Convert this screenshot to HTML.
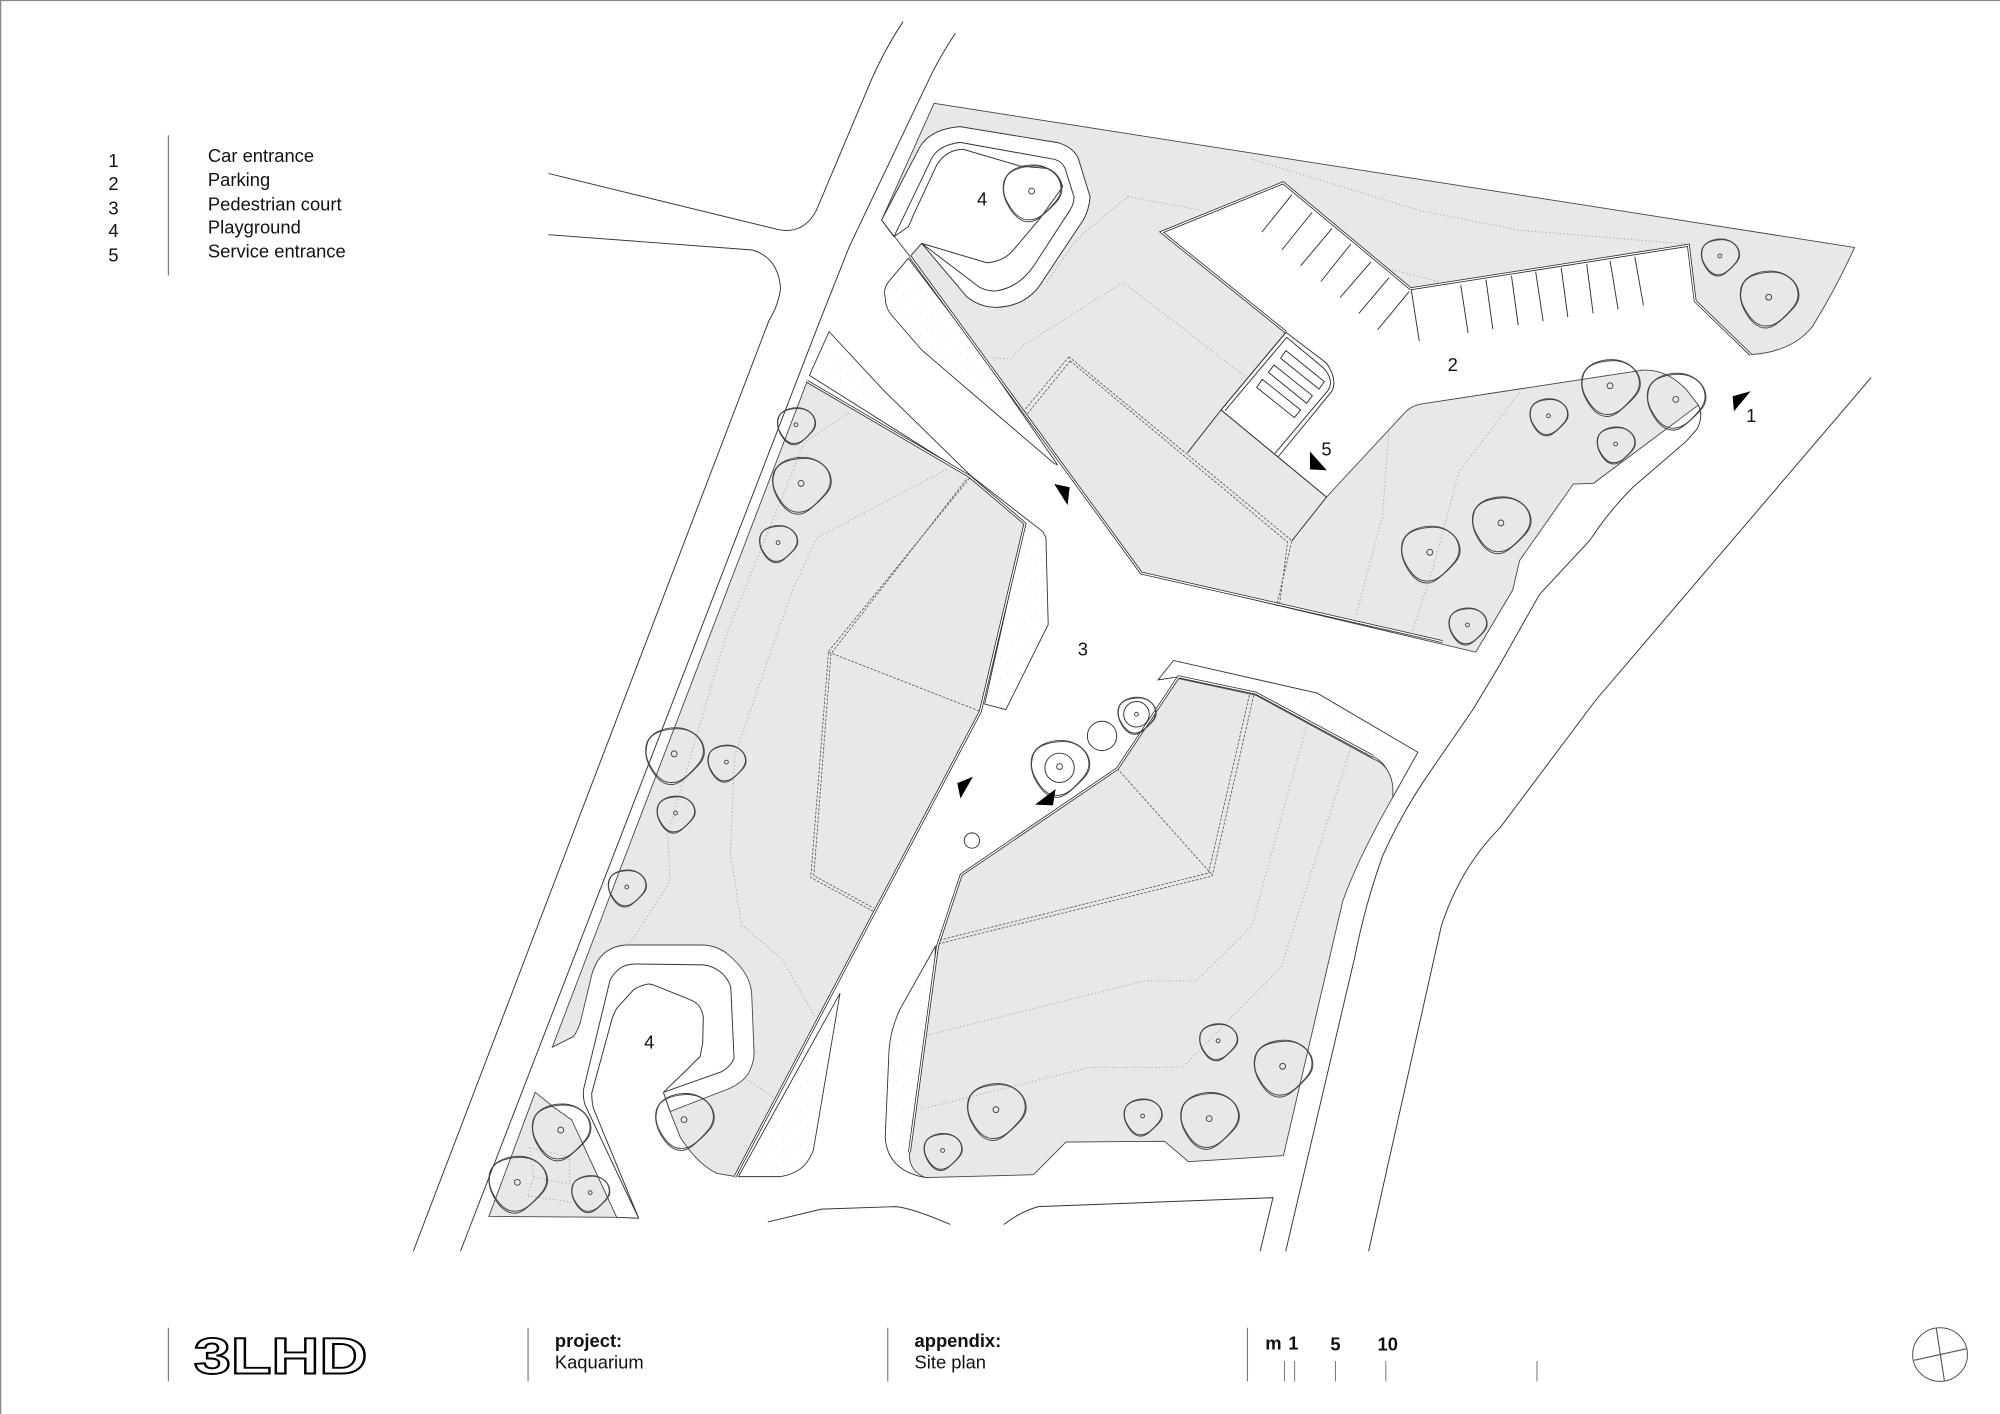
<!DOCTYPE html>
<html>
<head>
<meta charset="utf-8">
<title>Kaquarium Site plan</title>
<style>
html,body{margin:0;padding:0;background:#fff;}
svg{display:block;}
text{font-family:"Liberation Sans",sans-serif;fill:#111;font-size:14.4px;}
.b{font-weight:bold;}
.l{fill:none;stroke:#333;stroke-width:.75;}
.g{fill:#e8e8e8;stroke:#444;stroke-width:.7;}
.w{fill:#fff;stroke:#333;stroke-width:.75;}
.s{fill:url(#dots);stroke:#333;stroke-width:.7;}
.wo{fill:none;stroke:#222;stroke-width:2.2;stroke-linejoin:miter;}
.wi{fill:none;stroke:#fff;stroke-width:1;}
.ct{fill:none;stroke:#a5a5a5;stroke-width:.7;stroke-dasharray:1 1.8;}
.da{fill:none;stroke:#555;stroke-width:.65;stroke-dasharray:2 1.2;}
.bar{stroke:#777;stroke-width:.9;}
.ar{fill:#000;}
.tb{fill:none;stroke:#444;stroke-width:.95;vector-effect:non-scaling-stroke;}
</style>
</head>
<body>
<svg xmlns="http://www.w3.org/2000/svg" width="2000" height="1414" viewBox="0 0 1568 1108.6">
<defs>
<pattern id="dots" width="9" height="9" patternUnits="userSpaceOnUse">
<rect width="9" height="9" fill="#fff"/>
<circle cx="2" cy="2" r=".35" fill="#c8c8c8"/>
<circle cx="6.5" cy="6.5" r=".35" fill="#d2d2d2"/>
</pattern>
<g id="t">
<path class="tb" d="M.05,-.89 C.55,-.89 1.03,-.55 1.03,-.05 C1.03,.2 .85,.38 .6,.62 C.35,.85 .15,1.05 -.1,1.05 C-.45,1.05 -.7,.7 -.85,.4 C-.97,.15 -1,-.05 -.95,-.3 C-.85,-.7 -.4,-.89 .05,-.89Z"/>
<path class="tb" d="M0,-.85 C.5,-.9 .98,-.6 1,-.1 C1,.2 .8,.4 .55,.65 C.3,.9 .1,1 -.15,.98 C-.5,.95 -.72,.6 -.87,.3 C-.98,.05 -.98,-.15 -.9,-.4 C-.78,-.72 -.4,-.82 0,-.85Z"/>
<circle class="tb" r=".1"/>
</g>
</defs>

<rect width="1568" height="1108.6" fill="#fff"/>
<path d="M0,.4H1568M.5,0V1108.6" fill="none" stroke="#8a8a8a" stroke-width="1"/>

<!-- roads -->
<path class="l" d="M430,136 L610,180 Q630,184 640,165 L683,63 Q694,38 708,17"/>
<path class="l" d="M430,184 L590,196 Q610,202 612,226 Q610,240 603,251 L324,981"/>
<path class="l" d="M749,26 Q736,46 728,63 L666,193 L643,251 L361,981"/>
<path class="l" d="M1467,296 L1251,549 L1176,649 Q1145,680 1130,726 L1073,981"/>
<path class="l" d="M1331.5,317.6 Q1336,327 1330,337 L1322,346 L1280.6,381.6 Q1262,400 1246.6,423.4 L1207,466 L1176,521 L1155,556 L1124,601 Q1100,635 1084,671 Q1070,710 1062,751 L1008,981"/>
<path class="l" d="M787,960 Q800,950 814,946 L998,939 L988,981"/>
<path class="l" d="M602,958 L644,948 L702,946 Q715,947 745,960"/>

<!-- stippled areas -->
<path class="s" d="M712.1,202.6 L697.8,219.5 Q692,226 693.9,232.6 Q694,240 697.8,245.7 L722.6,274.4 L826.5,363.4 L829,364.3 L767,274.4Z"/>
<path class="s" d="M650,260 L634.6,294.3 L760,373.4 L803.6,410.5 L772,552 L788.6,556.3 L821.8,489.6 L820,421.4 L817.6,416.8 L761.6,373.4 L693.4,306.7Z"/>
<path class="s" d="M658.6,778.7 L578.9,922.5 L611.5,922.5 Q622,921 629.8,914.6 Q635,909 637.7,901.6Z"/>
<path class="s" d="M733.4,741.8 L705.5,791.4 Q697,810 696.8,828 L694,892 Q696,918 725.6,923.2Z"/>
<path class="s" d="M908,533 L920,517.8 L1032.6,543.4 L1111.6,589.8 L1092,625 Q1092,600 1076,593 L984.5,543.4 L924,530.6Z"/>

<!-- grey: north + east -->
<path class="g" d="M732.3,81 L1454,194 Q1440,225 1421,256 Q1405,276 1372.5,278 L1329,236 L1324,193 L1106.4,227 L1006,143.3 L910.7,182 L1008.2,260.5 L957.3,321.4 L1040,389.7 L1100,325 Q1105,319 1112.7,317 L1288.4,290.1 Q1300,290 1309.3,295.3 Q1316,299 1322.4,305.8 L1331.5,317.6 L1249.2,379 L1233.5,379.5 L1191.4,439.4 L1186,462.6 L1157,511.3 L894.8,449.3 L713.6,201.3 L691.2,172.5 Z"/>
<!-- grey: west -->
<path class="g" d="M632.8,299 L760,373.4 L803.6,410.5 L768.6,557.8 L674,737 L577,922.5 Q568,921 561.9,919.9 Q546,912 533.1,891.1 L525.3,871.5 L572.3,853.2 Q583,848 586.7,841.5 Q591,834 591.2,825.8 L589.3,778.7 Q588,762 569.7,747.4 Q561,741 550.1,740.9 L491.3,740.9 Q470,742 463.9,764.4 L454.8,802.3 Q452,810 449.5,812.7 L433,821 L477,705.6 Z"/>
<!-- grey: south -->
<path class="g" d="M924,532 L984.5,545 L1076.6,595 Q1090,600 1092,617 L1092,625 Q1065,672 1052.7,706.6 L1006.2,906 L931.8,910.8 L913,894.8 L835.7,895.4 L810.3,921 L725.6,923.2 Q712,918 713,903.4 L735,741.8 L753.6,685.8 L876,602.6Z"/>
<!-- grey: SW triangle -->
<path class="g" d="M419.6,856.3 L383.3,953.7 L483.5,954.4 L448.2,878 L434,868Z"/>
<path class="l" d="M483.5,954.4 L500.7,955.1"/>

<!-- north playground band -->
<path d="M691.2,172.5 L721.3,115 Q730,101 752.7,99.3 L829.7,111.9 Q842,116 845.4,124.2 L854.6,154.2 Q854,164 849.3,172.5 L818,219.5 Q806,240 781.4,241 Q768,241 757.9,232.6 L722.6,190.8 L714,200.5 Z" fill="#fff"/>
<path class="l" d="M700.9,185.6 L691.2,172.5 L721.3,115 Q730,101 752.7,99.3 L829.7,111.9 Q842,116 845.4,124.2 L854.6,154.2 Q854,164 849.3,172.5 L818,219.5 Q806,240 781.4,241 Q768,241 757.9,232.6 L722.6,190.8 L714,200.5"/>
<path class="l" d="M700.9,185.6 L730.4,124.2 Q736,113.7 752.7,111.6 L827.1,125 Q833,127 835,132 L842,154.2 Q842,160 838.9,164.7 L810.1,209 Q798,226 780.1,228.2 Q771,228 765.7,223.5 L722.6,190.8"/>
<path class="l" d="M700.9,185.6 L712.1,177.7 Q714,174 716.1,168.6 L734.4,129.4 Q742,117 755.3,117.1 L799.7,130.2 L820.6,132 Q830,135 833.1,146.4 L815.4,171.2 L794.5,196 Q787,205 773.6,206 L722.6,190.8"/>

<!-- south-west playground -->
<path class="l" d="M520.1,856.4 L565.8,840.2 Q573,836 575.5,829.7 L572.9,773.5 Q570,766 564.5,761.8 Q558,757 551.4,756.5 L499.2,755.8 Q490,756 486.1,759.2 Q481,763 478.3,768.3 L457.4,854.5 Q457,861 458.7,866.3 L492.6,938.1 L500.7,955.1"/>
<path class="l" d="M520.1,856.4 L538.4,838.8 Q545,832 548.8,828.4 Q550,823 550.9,817.9 L551.4,797 Q550,790 546.2,786.6 Q542,784 538.4,782.7 L513.5,772.7 Q509,771 507,771.7 Q501,773 496.6,776.1 L483.5,790.5 Q481,795 479.6,799.6 L463.9,857.1 Q464,864 465.2,868.9 L500.7,955.1"/>
<path class="l" d="M520.1,856.4 L525.3,871.5"/>

<!-- contours -->
<path class="ct" d="M742.4,368 L640.8,421.4 L621.6,461.7 L576,592 L572.6,669.4 L581.4,725.2 L612.8,751.5 L639,797.3"/>
<path class="ct" d="M665.4,323.7 L630.4,347 L569,499 L523.6,654 L525.4,691 L495.6,737 L492,739.7"/>
<path class="ct" d="M586.6,847 L606,860"/>
<path class="ct" d="M884.3,154 L942,165 M884.3,154 L845,186.7 L820,222"/>
<path class="ct" d="M976,295 L880.6,221.4 L803,270.4 L792.4,281.3 L776.6,280.6"/>
<path class="ct" d="M981.4,124.7 L1112.6,165 L1191.4,180.5 L1322.6,191.4"/>
<path class="ct" d="M1091.6,211.5 L1128.4,220.8"/>
<path class="ct" d="M1191.4,307.6 L1144,369.6 L1123,447 L1107.4,495"/>
<path class="ct" d="M1089,335.5 L1084,403.7 L1062.8,484.3"/>
<path class="ct" d="M1024.8,567.4 L981.4,725.8 L938,769 L897.7,769 L727.2,811.6"/>
<path class="ct" d="M1058.9,586.6 L1004.7,757.8 L927,836.8 L854.3,836.8 L721,869.8"/>
<path class="ct" d="M415,899.5 L446.6,907.4 L446.6,928.3 L418.6,923 L413.4,937.5 L450,942.7 M415,899.5 L418.6,923"/>

<!-- double dashed building outlines -->
<path class="da" d="M838,279.7 L802,323 M838,279.7 L1012.9,423.9 L1000.8,475"/>
<path class="da" d="M839,283 L805,325 M839,283 L1009.5,425 L1003,475"/>
<path class="da" d="M760,375 L649.6,510.7 L635.6,688 L684.6,714.4"/>
<path class="da" d="M757.5,376 L651.5,512.5 L638,686.5 L685,712"/>
<path class="da" d="M649.6,511.3 L768.6,557.8"/>
<path class="da" d="M983,545 L950.4,686.8 L735,740.2"/>
<path class="da" d="M979.5,545 L947.5,684.5 L735,737.5"/>
<path class="da" d="M876,602.6 L950.4,686"/>

<!-- walls -->
<g>
<path class="wo" d="M632.8,299 L760,373.4 L803.6,410.5 L768.6,557.8 L674,737 L576,923"/>
<path class="wi" d="M632.8,299 L760,373.4 L803.6,410.5 L768.6,557.8 L674,737 L576,923"/>
<path class="wo" d="M713.6,201.3 L894.8,449.3 L1131,503"/>
<path class="wi" d="M713.6,201.3 L894.8,449.3 L1131,503"/>
<path class="wo" d="M1106,226.4 L1323.7,192.3 L1329,236 L1372.5,278"/>
<path class="wi" d="M1106,226.4 L1323.7,192.3 L1329,236 L1372.5,278"/>
<path class="wo" d="M1106,226.4 L1006,143.3 L910.7,182 L1008.2,260.5"/>
<path class="wi" d="M1106,226.4 L1006,143.3 L910.7,182 L1008.2,260.5"/>
<path class="wo" d="M1076.6,593 L984.5,543.4 L924,530.6 L876,602.6 L753.6,685.8 L735,741.8 L713,903.4"/>
<path class="wi" d="M1076.6,593 L984.5,543.4 L924,530.6 L876,602.6 L753.6,685.8 L735,741.8 L713,903.4"/>
</g>

<!-- service yard -->
<path class="l" d="M1002.2,358 L1044,307 Q1049,298 1040.1,284.8 L1008.2,260.5 L957.3,321.4 L1040,389.7 L1012.9,423.9 M957.3,321.4 L931,355"/>
<path class="l" d="M999.6,355.4 L1041.4,305.8 Q1046,298 1038,288.8 L1008.8,264.5 L960.4,322"/>
<polygon class="w" points="1008.2,274.9 1038.3,299.2 1034.1,305 1004,280.9"/>
<polygon class="w" points="998.8,286.2 1028.9,310.2 1024.4,316.2 994.4,291.9"/>
<polygon class="w" points="989.7,297.4 1019.7,321.4 1014.8,327.4 985.2,303.7"/>

<!-- parking lines -->
<path class="l" d="M1012.9,152.6 L989.3,182 M1028.6,166.6 L1005,196 M1044.4,179 L1019.7,208.4 M1059,191.4 L1035.5,220.8 M1074.9,205.3 L1050.7,233.2 M1089,217.7 L1065.4,245.6 M1104.8,228.6 L1080,258.6"/>
<path class="l" d="M1106.4,227 L1112.7,267.3 M1145.2,223.3 L1151,261 M1165,219.3 L1170.4,258 M1185,216.2 L1190.3,255 M1204,213 L1209.8,251.8 M1224,210 L1229.2,248.7 M1244,207 L1249,245.6 M1262.3,204.4 L1268.6,242.5 M1281.7,201.3 L1288.5,239.4"/>

<!-- trees -->
<use href="#t" transform="translate(808.8,149.8) scale(23)"/>
<use href="#t" transform="translate(1348.4,200.7) scale(15)"/>
<use href="#t" transform="translate(1386.7,233) scale(23)"/>
<use href="#t" transform="translate(1262.3,302.4) scale(23)"/>
<use href="#t" transform="translate(1313.8,313.1) scale(23)"/>
<use href="#t" transform="translate(1214,326) scale(15)"/>
<use href="#t" transform="translate(1266.7,348.1) scale(15)"/>
<use href="#t" transform="translate(1176.7,410) scale(23)"/>
<use href="#t" transform="translate(1121,433) scale(23)"/>
<use href="#t" transform="translate(1150.5,490) scale(15)"/>
<use href="#t" transform="translate(624,333) scale(15)"/>
<use href="#t" transform="translate(628,379) scale(23)"/>
<use href="#t" transform="translate(610,425.4) scale(15)"/>
<use href="#t" transform="translate(528.5,591) scale(23)"/>
<use href="#t" transform="translate(569.5,597.5) scale(15)"/>
<use href="#t" transform="translate(529.6,637.5) scale(15)"/>
<use href="#t" transform="translate(491.4,695.4) scale(15)"/>
<use href="#t" transform="translate(536.3,877.8) scale(23)"/>
<use href="#t" transform="translate(439.6,886) scale(23)"/>
<use href="#t" transform="translate(405.6,927) scale(23)"/>
<use href="#t" transform="translate(462.7,935) scale(15)"/>
<use href="#t" transform="translate(739,902) scale(15)"/>
<use href="#t" transform="translate(780.8,870) scale(23)"/>
<use href="#t" transform="translate(895.8,875) scale(15)"/>
<use href="#t" transform="translate(948,877) scale(23)"/>
<use href="#t" transform="translate(955,816) scale(15)"/>
<use href="#t" transform="translate(1005.6,836) scale(23)"/>
<use href="#t" transform="translate(830.7,601) scale(23)"/>
<use href="#t" transform="translate(891,560) scale(15)"/>
<circle class="l" cx="830.7" cy="602" r="11.5"/>
<circle class="l" cx="891" cy="560" r="10"/>
<circle class="l" cx="864" cy="577" r="11.5"/>
<circle class="l" cx="762" cy="659" r="6"/>

<!-- arrows -->
<polygon class="ar" points="1372.5,306.7 1358.4,310.7 1359.4,322.5"/>
<polygon class="ar" points="1027,354 1040.2,368.7 1027,368"/>
<polygon class="ar" points="826.5,379.5 838.6,382 837,396"/>
<polygon class="ar" points="762.8,609 750.5,614 753,626"/>
<polygon class="ar" points="827.6,618.6 811.5,630.8 825.5,631.4"/>

<!-- plan labels -->
<g text-anchor="middle">
<text x="1373" y="331">1</text>
<text x="1139" y="291">2</text>
<text x="849" y="514">3</text>
<text x="770" y="161">4</text>
<text x="509" y="822">4</text>
<text x="1040" y="357">5</text>
</g>

<!-- legend -->
<line class="bar" x1="132" y1="106" x2="132" y2="216"/>
<g text-anchor="middle">
<text x="89" y="131">1</text>
<text x="89" y="149">2</text>
<text x="89" y="168">3</text>
<text x="89" y="186">4</text>
<text x="89" y="205">5</text>
</g>
<text x="163" y="127">Car entrance</text>
<text x="163" y="146">Parking</text>
<text x="163" y="165">Pedestrian court</text>
<text x="163" y="183">Playground</text>
<text x="163" y="202">Service entrance</text>

<!-- footer -->
<line class="bar" x1="132" y1="1041" x2="132" y2="1083"/>
<line class="bar" x1="414" y1="1041" x2="414" y2="1083"/>
<line class="bar" x1="696" y1="1041" x2="696" y2="1083"/>
<line class="bar" x1="978" y1="1041" x2="978" y2="1083"/>
<text x="152" y="1077" textLength="136" lengthAdjust="spacingAndGlyphs" style="font-size:40px;font-weight:bold;fill:#fff;stroke:#000;stroke-width:1.5">3LHD</text>
<text x="435" y="1056" class="b">project:</text>
<text x="435" y="1073">Kaquarium</text>
<text x="717" y="1056" class="b">appendix:</text>
<text x="717" y="1073">Site plan</text>
<text x="992" y="1058" class="b">m</text>
<text x="1010" y="1058" class="b">1</text>
<text x="1043" y="1059" class="b">5</text>
<text x="1080" y="1059" class="b">10</text>
<path d="M1007,1067V1083M1015,1067V1083M1047,1067V1083M1086.5,1067V1083M1205,1067V1083" stroke="#777" stroke-width=".8" fill="none"/>
<ellipse cx="1521" cy="1062" rx="21.5" ry="21" fill="none" stroke="#555" stroke-width=".8"/>
<path d="M1518,1041 L1524.5,1083 M1500.5,1066.5 L1542,1057.4" stroke="#555" stroke-width=".9" fill="none"/>
</svg>
</body>
</html>
